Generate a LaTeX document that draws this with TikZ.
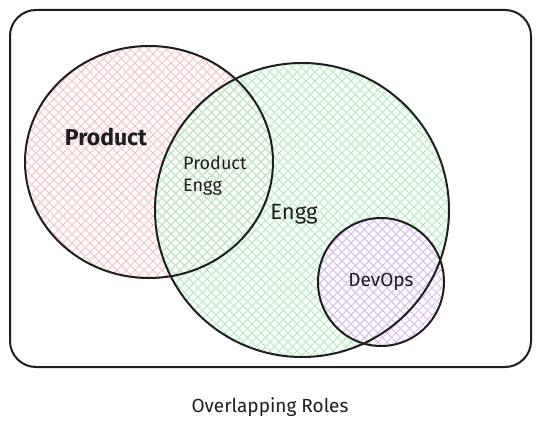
\documentclass[tikz,border=0pt]{standalone}
\usepackage{fontspec}
\setmainfont{Fira Sans}
\definecolor{pinkh}{HTML}{F8BFC3}
\definecolor{greenh}{HTML}{ABEDB8}
\definecolor{purpleh}{HTML}{DFB6F5}
\definecolor{inkc}{HTML}{1E1E1E}
\tikzset{
  hatch/.style={line width=1pt},
  outline/.style={draw=inkc, line width=2pt},
  lbl/.style={text=inkc, inner sep=0pt, font=\fontsize{18}{22}\selectfont}
}
\newcommand{\hatchfill}[2]{%
  \begin{scope}
    \clip #1;
    \foreach \c in {-441,-432,...,560} {\draw[hatch,#2] (\c,0) -- ++(440,440);}
    \foreach \c in {0,9,...,1000} {\draw[hatch,#2] (\c,0) -- ++(-440,440);}
  \end{scope}}
\begin{document}
\begin{tikzpicture}[x=1pt,y=-1pt]
\useasboundingbox (0,0) rectangle (540,428);
\fill[white] (0,0) rectangle (540,428);
% hatches
\hatchfill{(149,162) ellipse [x radius=124, y radius=116]}{pinkh}
\hatchfill{(302,210) ellipse [x radius=147, y radius=147]}{greenh}
\hatchfill{(381,282) ellipse [x radius=63, y radius=64]}{purpleh}
% outlines
\draw[outline, rounded corners=26pt] (10,10) rectangle (531,367);
\draw[outline] (149,162) ellipse [x radius=124, y radius=116];
\draw[outline] (302,210) ellipse [x radius=147, y radius=147];
\draw[outline] (381,282) ellipse [x radius=63, y radius=64];
% labels
\node[lbl, font=\fontsize{23}{27}\selectfont\bfseries] (product) at (106,137) {Product};
\node[lbl, align=left, anchor=west, font=\fontsize{18}{22}\selectfont] (prodengg) at (183,176) {Product\\Engg};
\node[lbl, font=\fontsize{22}{26}\selectfont] (engg) at (294,214) {Engg};
\node[lbl, font=\fontsize{19}{23}\selectfont] (devops) at (381,282) {DevOps};
\node[lbl, font=\fontsize{19}{23}\selectfont] (title) at (270,407) {Overlapping Roles};
\end{tikzpicture}
\end{document}
